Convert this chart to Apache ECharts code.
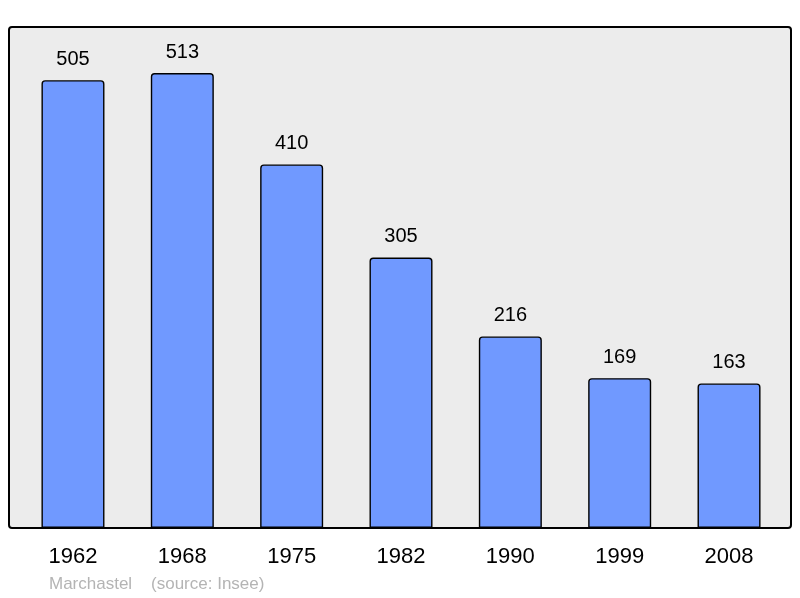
<!DOCTYPE html>
<html><head><meta charset="utf-8">
<script src="https://cdn.jsdelivr.net/npm/echarts@6/dist/echarts.min.js"></script>
<style>html,body{margin:0;padding:0;background:#fff}#c{width:800px;height:598px}</style>
</head><body><div id="c"></div>
<script>
const years = ['1962','1968','1975','1982','1990','1999','2008'];
const population = [505,513,410,305,216,169,163];
const footer = 'Marchastel    (source: Insee)';

const chart = echarts.init(document.getElementById('c'), null, {renderer:'canvas'});
chart.setOption({
  animation:false,
  textStyle:{fontFamily:'Liberation Sans, Arial, sans-serif'},
  graphic:[
    {type:'rect', z:-10, shape:{x:9,y:27,width:782,height:501,r:3},
     style:{fill:'#ececec',stroke:'#000',lineWidth:2}},
    {type:'text', left:49, top:576, style:{text:footer, fill:'#b4b4b4', font:'17px Liberation Sans, Arial, sans-serif'}}
  ],
  grid:{left:18.3, width:765.4, top:27, bottom:70, containLabel:false},
  xAxis:{type:'category', data:years,
    axisLine:{show:false}, axisTick:{show:false},
    axisLabel:{color:'#000', fontSize:22, margin:18}},
  yAxis:{type:'value', min:0, max:565, show:false, splitLine:{show:false}},
  series:[{type:'bar', data:population, barWidth:63,
    itemStyle:{color:'#7099ff', borderColor:'#000', borderWidth:1.4, borderRadius:[3,3,0,0]},
    label:{show:true, position:'top', distance:11, color:'#000', fontSize:20}
  }]
});
</script></body></html>
